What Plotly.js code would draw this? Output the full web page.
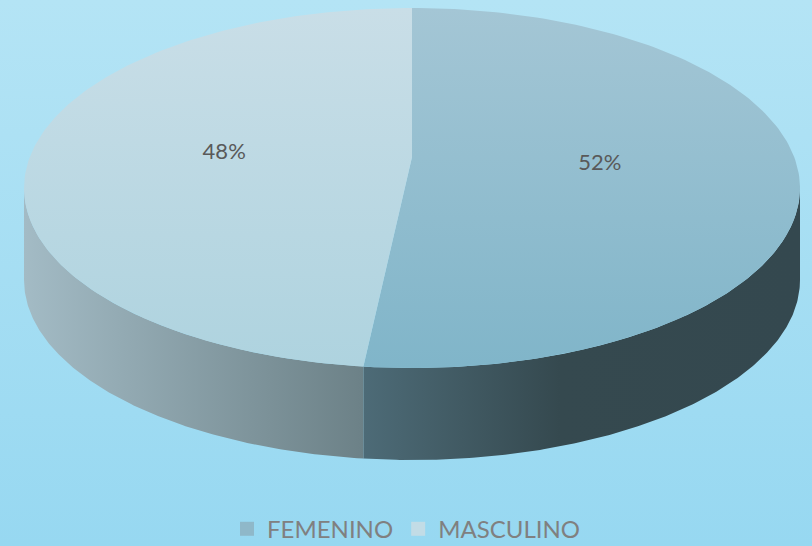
<!DOCTYPE html>
<html><head><meta charset="utf-8">
<script src="https://cdn.plot.ly/plotly-3.0.1.min.js"></script>
<style>html,body{margin:0;padding:0;}#chart{width:812px;height:546px;background:linear-gradient(to bottom,#b4e4f5,#97d8f1);}</style>
</head><body><div id="chart"></div>
<script>
// ---- data ----
const categories = ['FEMENINO', 'MASCULINO'];
const values = [52, 48];
// ---- styles ----
const topColors = [['#a4c6d5', '#80b5c9'], ['#c9dee7', '#aed3df']];
const sideScales = [
  [[0, '#4d6b77'], [0.45, '#35494f'], [1, '#34484f']],
  [[0, '#a3bbc5'], [1, '#6c8187']]
];
const legendColors = ['#8fb8c9', '#c2dce6'];

// ---- geometry (layout constants) ----
const cx = 412, cy = 188, rx = 388, ry = 180, depth = 92, apexY = 157, labelCy = 159, labelR = 0.485;
const N = 180;
const deg = Math.PI / 180;
function pt(theta, dy) { return [cx + rx * Math.sin(theta * deg), cy - ry * Math.cos(theta * deg) + (dy || 0)]; }

const total = values.reduce((a, b) => a + b, 0);
const starts = [];
let acc = 0;
values.forEach(v => { starts.push(acc / total * 360); acc += v; });

const sideTraces = [], topTraces = [], legendTraces = [];
const labX = [], labY = [], labT = [];

values.forEach((v, i) => {
  const a = starts[i], b = a + v / total * 360;
  // top wedge
  const xs = [cx], ys = [apexY];
  for (let k = 0; k <= N; k++) { const t = a + (b - a) * k / N; const p = pt(t); xs.push(p[0]); ys.push(p[1]); }
  xs.push(cx); ys.push(apexY);
  topTraces.push({
    type: 'scatter', mode: 'lines', x: xs, y: ys, fill: 'toself', line: { width: 0 },
    fillgradient: { type: 'vertical', start: cy - ry, stop: cy + ry, colorscale: [[0, topColors[i][0]], [1, topColors[i][1]]] },
    showlegend: false, hoverinfo: 'skip', name: categories[i]
  });
  // front side (visible between 90 and 270 degrees)
  const s0 = Math.max(a, 90), s1 = Math.min(b, 270);
  if (s1 > s0) {
    const sx = [], sy = [];
    for (let k = 0; k <= N; k++) { const t = s0 + (s1 - s0) * k / N; const p = pt(t); sx.push(p[0]); sy.push(p[1]); }
    for (let k = N; k >= 0; k--) { const t = s0 + (s1 - s0) * k / N; const p = pt(t, depth); sx.push(p[0]); sy.push(p[1]); }
    sx.push(sx[0]); sy.push(sy[0]);
    sideTraces.push({
      type: 'scatter', mode: 'lines', x: sx, y: sy, fill: 'toself', line: { width: 0 },
      fillgradient: { type: 'horizontal', colorscale: sideScales[i] },
      showlegend: false, hoverinfo: 'skip'
    });
  }
  // label
  const m = (a + b) / 2;
  labX.push(cx + labelR * rx * Math.sin(m * deg));
  labY.push(labelCy - labelR * ry * Math.cos(m * deg));
  labT.push(Math.round(v / total * 100) + '%');
  // legend entry
  legendTraces.push({
    type: 'scatter', mode: 'markers', x: [null], y: [null], name: categories[i],
    marker: { symbol: 'square', size: 14, color: legendColors[i] }, showlegend: true, hoverinfo: 'skip'
  });
});

const labelTrace = {
  type: 'scatter', mode: 'text', x: labX, y: labY, text: labT,
  textfont: { family: 'Lato, "Open Sans", sans-serif', size: 22, color: '#595959' },
  showlegend: false, hoverinfo: 'skip'
};

const layout = {
  width: 812, height: 546,
  margin: { l: 0, r: 0, t: 0, b: 0, autoexpand: false },
  paper_bgcolor: 'rgba(0,0,0,0)', plot_bgcolor: 'rgba(0,0,0,0)',
  xaxis: { range: [0, 812], visible: false, fixedrange: true },
  yaxis: { range: [546, 0], visible: false, fixedrange: true },
  showlegend: true,
  legend: {
    orientation: 'h', x: 0.5, xanchor: 'center', y: 0.072, yanchor: 'top',
    font: { family: 'Lato, "Open Sans", sans-serif', size: 24, color: '#808080' },
    itemwidth: 30, bgcolor: 'rgba(0,0,0,0)'
  },
  hovermode: false
};

Plotly.newPlot('chart', [...sideTraces, ...topTraces, labelTrace, ...legendTraces], layout, { displayModeBar: false, staticPlot: true });
</script></body></html>
